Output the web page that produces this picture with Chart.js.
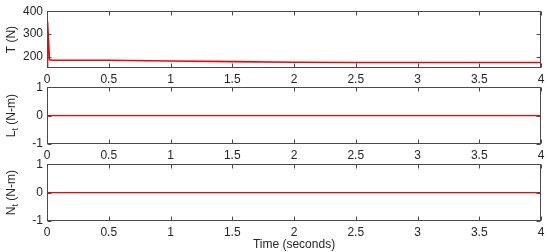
<!DOCTYPE html>
<html>
<head>
<meta charset="utf-8">
<script src="https://cdn.jsdelivr.net/npm/chart.js@4"></script>
<style>
  html, body { margin:0; padding:0; background:#fff; }
  body { width:550px; height:252px; position:relative; overflow:hidden; }
  .panel { position:absolute; left:0; width:550px; }
  canvas { display:block; }
</style>
</head>
<body>
<div class="panel" id="p1" style="top:0px;height:90px;"><canvas id="c1"></canvas></div>
<div class="panel" id="p2" style="top:76px;height:90px;"><canvas id="c2"></canvas></div>
<div class="panel" id="p3" style="top:153px;height:99px;"><canvas id="c3"></canvas></div>
<script>
// ---- data ----
const timeThrust = [0, 0.003, 0.006, 0.01, 0.02, 0.05, 0.5, 1, 1.5, 2, 2.5, 3, 3.5, 4];
const thrustN    = [150, 355, 352, 300, 186, 184, 184, 181, 178, 175, 174, 174, 174, 174];
const timeMoment = [0, 4];
const rollMomentLt  = [0, 0];
const yawMomentNt   = [0, 0];
const timeTicks  = [0, 0.5, 1, 1.5, 2, 2.5, 3, 3.5, 4];
const thrustTicks = [200, 300, 400];
const momentTicks = [-1, 0, 1];
const yTitleT = [{text: 'T (N)', size: 12, dy: 0}];
const yTitleL = [{text: 'L', size: 12, dy: 0}, {text: 't', size: 9, dy: 4}, {text: ' (N-m)', size: 12, dy: 0}];
const yTitleN = [{text: 'N', size: 12, dy: 0}, {text: 't', size: 9, dy: 4}, {text: ' (N-m)', size: 12, dy: 0}];

const axisColor = '#4a4a4a';
const textColor = '#262626';
const fontFamily = '"Liberation Sans", Arial, Helvetica, sans-serif';

const boxTicks = {
  id: 'boxTicks',
  afterDatasetsDraw(chart) {
    const {ctx, chartArea: a, scales: {x, y}} = chart;
    ctx.save();
    ctx.strokeStyle = axisColor;
    ctx.lineWidth = 1;
    const L = Math.round(a.left) + 0.5, R = Math.round(a.right) - 0.5;
    const T = Math.round(a.top) + 0.5, B = Math.round(a.bottom) - 0.5;
    ctx.strokeRect(L, T, R - L, B - T);
    const len = 4;
    ctx.beginPath();
    x.ticks.forEach(t => {
      const px = Math.round(x.getPixelForValue(t.value)) + 0.5;
      ctx.moveTo(px, B); ctx.lineTo(px, B - len);
      ctx.moveTo(px, T); ctx.lineTo(px, T + len);
    });
    y.ticks.forEach(t => {
      const py = Math.round(y.getPixelForValue(t.value)) + 0.5;
      ctx.moveTo(L, py); ctx.lineTo(L + len, py);
      ctx.moveTo(R, py); ctx.lineTo(R - len, py);
    });
    ctx.stroke();
    ctx.restore();
  }
};

const richYTitle = {
  id: 'richYTitle',
  afterDraw(chart, args, opts) {
    const parts = opts.parts;
    if (!parts) return;
    const {ctx, chartArea: a} = chart;
    ctx.save();
    let total = 0;
    parts.forEach(p => { ctx.font = p.size + 'px ' + fontFamily; p.w = ctx.measureText(p.text).width; total += p.w; });
    const cy = (a.top + a.bottom) / 2;
    ctx.translate(opts.x, cy);
    ctx.rotate(-Math.PI / 2);
    ctx.fillStyle = textColor;
    ctx.textBaseline = 'middle';
    ctx.textAlign = 'left';
    let cx = -total / 2;
    parts.forEach(p => {
      ctx.font = p.size + 'px ' + fontFamily;
      ctx.fillText(p.text, cx, p.dy);
      cx += p.w;
    });
    ctx.restore();
  }
};

function makeChart(id, xs, ys, yMin, yMax, yTickVals, yTitleParts, xAxisHeight, showXTitle, lineW) {
  const data = xs.map((t, i) => ({x: t, y: ys[i]}));
  return new Chart(document.getElementById(id), {
    type: 'line',
    data: { datasets: [{ data, borderColor: '#ff0000', borderWidth: lineW, pointRadius: 0, tension: 0, fill: false }] },
    options: {
      responsive: true,
      maintainAspectRatio: false,
      animation: false,
      events: [],
      layout: { padding: { top: 10, right: 9, left: 0, bottom: 0 } },
      plugins: { legend: { display: false }, tooltip: { enabled: false },
                 richYTitle: { parts: yTitleParts, x: 12 } },
      scales: {
        x: {
          type: 'linear', min: 0, max: 4,
          grid: { display: false, drawTicks: false },
          border: { display: false },
          afterBuildTicks: s => { s.ticks = timeTicks.map(v => ({value: v})); },
          afterFit: s => { s.height = xAxisHeight; },
          ticks: { color: textColor, font: { family: fontFamily, size: 12 }, padding: 4, maxRotation: 0,
                   callback: v => String(v) },
          title: { display: showXTitle, text: 'Time (seconds)', color: textColor,
                   font: { family: fontFamily, size: 12 }, padding: { top: 0, bottom: 0 } }
        },
        y: {
          type: 'linear', min: yMin, max: yMax,
          grid: { display: false, drawTicks: false },
          border: { display: false },
          afterBuildTicks: s => { s.ticks = yTickVals.map(v => ({value: v})); },
          afterFit: s => { s.width = 47; },
          ticks: { color: textColor, font: { family: fontFamily, size: 12 }, padding: 4,
                   callback: v => String(v) },
          title: { display: false }
        }
      }
    },
    plugins: [boxTicks, richYTitle]
  });
}

makeChart('c1', timeThrust, thrustN, 150, 400, thrustTicks, yTitleT, 22, false, 1.6);
makeChart('c2', timeMoment, rollMomentLt, -1, 1, momentTicks, yTitleL, 22, false, 1.2);
makeChart('c3', timeMoment, yawMomentNt, -1, 1, momentTicks, yTitleN, 31, true, 1.2);
</script>
</body>
</html>
